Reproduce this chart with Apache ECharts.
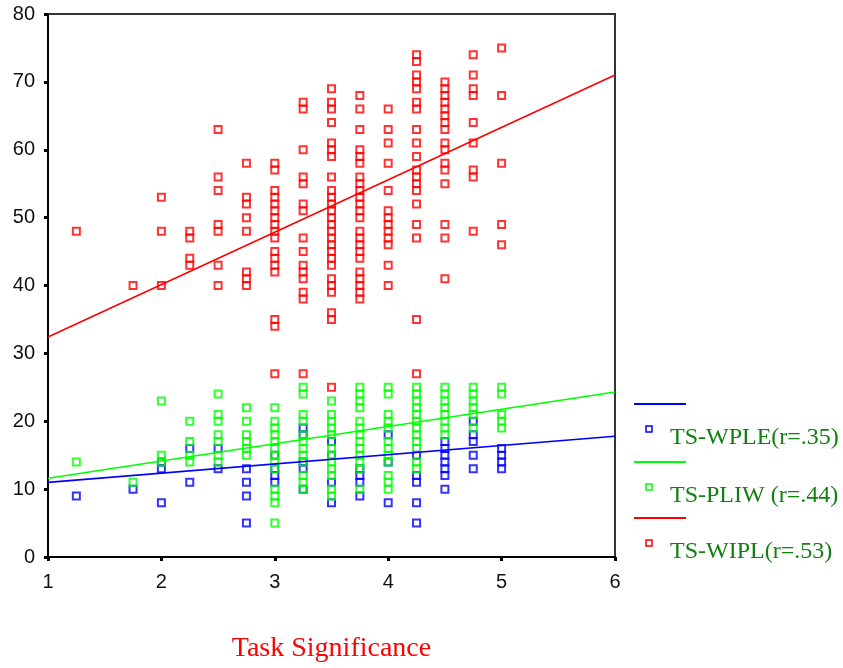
<!DOCTYPE html>
<html>
<head>
<meta charset="utf-8">
<script src="https://cdn.jsdelivr.net/npm/echarts@6/dist/echarts.min.js"></script>
<style>
  html, body { margin: 0; padding: 0; background: #fff; }
  #chart { width: 843px; height: 668px; }
</style>
</head>
<body>
<div id="chart"></div>
<script>
// x columns (Task Significance)
const xCols = [1.25, 1.75, 2, 2.25, 2.5, 2.75, 3, 3.25, 3.5, 3.75, 4, 4.25, 4.5, 4.75, 5]

// y values per column
const wiplCols = [
  [48],
  [40],
  [53, 48, 40],
  [48, 47, 44, 43],
  [63, 56, 54, 49, 48, 43, 40],
  [58, 53, 52, 50, 48, 42, 41, 40],
  [58, 57, 54, 53, 52, 51, 50, 49, 48, 47, 45, 44, 43, 42, 35, 34, 27],
  [67, 66, 60, 56, 55, 52, 51, 47, 45, 43, 42, 41, 39, 38, 27],
  [69, 67, 66, 64, 61, 60, 59, 56, 54, 53, 52, 51, 50, 49, 48, 47, 46, 45, 44, 43, 41, 40, 39, 36, 35, 25],
  [68, 66, 63, 60, 59, 58, 56, 55, 54, 53, 52, 51, 50, 48, 47, 46, 45, 44, 42, 41, 40, 39, 38],
  [66, 63, 61, 58, 54, 51, 50, 49, 48, 47, 46, 43, 40],
  [74, 73, 71, 70, 69, 67, 66, 63, 61, 59, 57, 56, 55, 54, 52, 49, 47, 35, 27],
  [70, 69, 68, 67, 66, 65, 64, 63, 61, 60, 58, 57, 55, 49, 47, 41],
  [74, 71, 69, 68, 64, 61, 57, 56, 48],
  [75, 68, 58, 49, 46]
]
const pliwCols = [
  [14],
  [11],
  [23, 15, 14],
  [20, 17, 15, 14],
  [24, 21, 20, 18, 17, 15, 14],
  [22, 20, 18, 17, 16, 15],
  [22, 20, 19, 18, 17, 16, 15, 14, 13, 10, 9, 8, 5],
  [25, 24, 21, 20, 18, 17, 16, 15, 14, 12, 11, 10],
  [23, 21, 20, 19, 18, 16, 15, 14, 13, 12, 10, 9],
  [25, 24, 23, 22, 20, 19, 18, 17, 16, 15, 14, 13, 10],
  [25, 24, 21, 20, 19, 17, 16, 15, 14, 12, 11, 10],
  [25, 24, 23, 22, 21, 20, 19, 18, 17, 16, 14, 13],
  [25, 24, 23, 22, 21, 20, 19, 18],
  [25, 24, 23, 22, 21, 19],
  [25, 24, 21, 20, 19]
]
const wpleCols = [
  [9],
  [10],
  [14, 13, 8],
  [16, 11],
  [16, 13],
  [13, 11, 9, 5],
  [15, 13, 12, 11],
  [19, 18, 14, 13, 10],
  [17, 15, 11, 8],
  [13, 12, 11, 9],
  [18, 14, 8],
  [15, 12, 11, 8, 5],
  [17, 16, 15, 14, 13, 12, 10],
  [20, 18, 17, 15, 13],
  [16, 15, 14, 13]
]

// fit lines, values at x = 1 and x = 6
const fitX = [1, 6]
const wpleFit = [11.0, 17.8]
const pliwFit = [11.6, 24.3]
const wiplFit = [32.4, 71.0]

const legendNames = ['TS-WPLE(r=.35)', 'TS-PLIW (r=.44)', 'TS-WIPL(r=.53)']
const colors = ['#0000ff', '#00ff00', '#ff0000']

function toPoints(cols) {
  let pts = []
  cols.forEach((ys, i) => {
    ys.forEach(y => pts.push([xCols[i], y]))
  })
  return pts
}

function fitLine(vals) {
  return fitX.map((x, i) => [x, vals[i]])
}

function scatter(cols, color, z) {
  return {
    type: 'scatter',
    symbol: 'rect',
    symbolSize: 7,
    z: z,
    silent: true,
    itemStyle: {
      color: 'rgba(0,0,0,0)',
      borderColor: color,
      borderWidth: 2
    },
    data: toPoints(cols)
  }
}

function line(vals, color) {
  return {
    type: 'line',
    showSymbol: false,
    silent: true,
    z: 5,
    lineStyle: { color: color, width: 1.6 },
    data: fitLine(vals)
  }
}

// legend drawn by hand: line on top, square + text below
let legendGraphic = []
const legendTop = [404, 462, 518]
legendNames.forEach((name, i) => {
  let y = legendTop[i]
  legendGraphic.push({
    type: 'line',
    shape: { x1: 634, y1: y, x2: 686, y2: y },
    style: { stroke: colors[i], lineWidth: 2 }
  })
  legendGraphic.push({
    type: 'rect',
    shape: { x: 646, y: y + 22, width: 6, height: 6 },
    style: { fill: 'none', stroke: colors[i], lineWidth: 1.5 }
  })
  legendGraphic.push({
    type: 'text',
    x: 670,
    y: y + 34,
    style: {
      text: name,
      fill: '#118011',
      font: '24px "Liberation Serif", "DejaVu Serif", serif',
      verticalAlign: 'middle'
    }
  })
})

let myChart = echarts.init(document.getElementById('chart'))

let option = {
  animation: false,
  backgroundColor: '#fff',
  grid: {
    left: 48,
    right: 228,
    top: 14,
    bottom: 110,
    show: true,
    borderColor: '#333',
    borderWidth: 2
  },
  xAxis: {
    type: 'value',
    min: 1,
    max: 6,
    interval: 1,
    name: 'Task Significance',
    nameLocation: 'middle',
    nameGap: 78,
    nameTextStyle: {
      color: '#ff0000',
      fontSize: 28,
      fontFamily: '"Liberation Serif", "DejaVu Serif", serif'
    },
    splitLine: { show: false },
    axisLine: { lineStyle: { color: '#000', width: 2 } },
    axisTick: { show: true, length: 4, lineStyle: { color: '#000', width: 3 } },
    axisLabel: {
      color: '#111',
      fontSize: 20,
      fontFamily: '"Liberation Sans", Arial, sans-serif',
      margin: 15
    }
  },
  yAxis: {
    type: 'value',
    min: 0,
    max: 80,
    interval: 10,
    splitLine: { show: false },
    axisLine: { show: true, lineStyle: { color: '#000', width: 2 } },
    axisTick: { show: true, length: 4, lineStyle: { color: '#000', width: 3 } },
    axisLabel: {
      color: '#111',
      fontSize: 20,
      fontFamily: '"Liberation Sans", Arial, sans-serif',
      margin: 13
    }
  },
  graphic: legendGraphic,
  series: [
    scatter(wpleCols, colors[0], 2),
    scatter(pliwCols, colors[1], 3),
    scatter(wiplCols, colors[2], 4),
    line(wpleFit, colors[0]),
    line(pliwFit, colors[1]),
    line(wiplFit, colors[2])
  ]
}

myChart.setOption(option)
</script>
</body>
</html>
